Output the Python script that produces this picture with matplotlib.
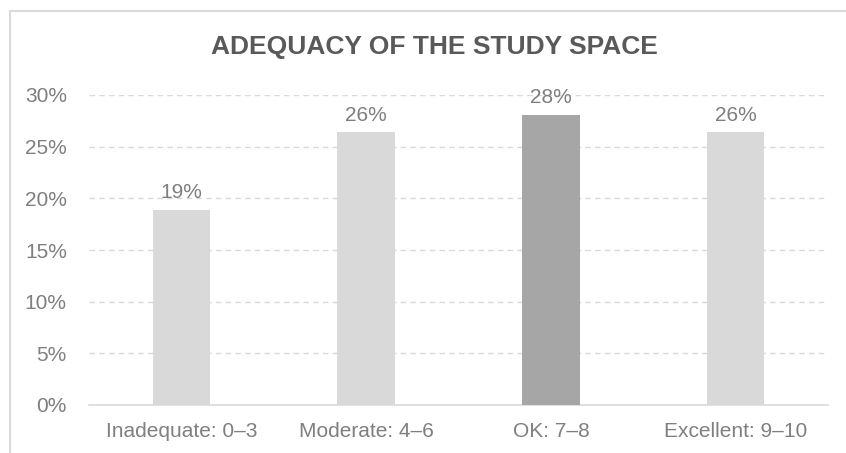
import matplotlib.pyplot as plt
from matplotlib.lines import Line2D
from matplotlib.ticker import PercentFormatter

plt.rcParams['font.family'] = ['Liberation Sans', 'DejaVu Sans']

categories = ['Inadequate: 0\u20133', 'Moderate: 4\u20136', 'OK: 7\u20138', 'Excellent: 9\u201310']
shares = [18.9, 26.4, 28.1, 26.4]
colors = ['#d9d9d9', '#d9d9d9', '#a6a6a6', '#d9d9d9']

fig = plt.figure(figsize=(8.46, 4.53), dpi=100)
ax = fig.add_axes([89 / 846, 1 - 405 / 453, (828 - 89) / 846, (405 - 95) / 453])

# outer chart frame: only the top and left edges fall inside the image
frame_kw = dict(transform=fig.transFigure, color='#d9d9d9', linewidth=1.5)
fig.lines.append(Line2D([10 / 846, 1.0], [1 - 11 / 453] * 2, **frame_kw))
fig.lines.append(Line2D([10 / 846] * 2, [0.0, 1 - 11 / 453], **frame_kw))

x = range(len(categories))
bars = ax.bar(x, shares, width=0.31, color=colors, zorder=3)
for b, v in zip(bars, shares):
    ax.text(b.get_x() + b.get_width() / 2, v + 0.7, f'{v:.0f}%',
            ha='center', va='bottom', fontsize=15, color='#7f7f7f')

ax.set_xlim(-0.5, len(categories) - 0.5)
ax.set_ylim(0, 30)
ax.set_yticks(range(0, 31, 5))
ax.yaxis.set_major_formatter(PercentFormatter(decimals=0))
ax.set_xticks(list(x))
ax.set_xticklabels(categories)
ax.tick_params(axis='both', length=0, labelsize=15, labelcolor='#7f7f7f')
ax.tick_params(axis='x', pad=12)
ax.tick_params(axis='y', pad=16)

ax.grid(axis='y', linestyle=(0, (4, 3)), color='#d9d9d9', linewidth=1, zorder=0)
for s in ['top', 'right', 'left']:
    ax.spines[s].set_visible(False)
ax.spines['bottom'].set_color('#d9d9d9')
ax.spines['bottom'].set_linewidth(1.2)

fig.text(434 / 846, 1 - 47 / 453, 'ADEQUACY OF THE STUDY SPACE', ha='center', va='center',
         fontsize=19, fontweight='bold', color='#595959')

fig.savefig('out.png', dpi=100, facecolor='white')
